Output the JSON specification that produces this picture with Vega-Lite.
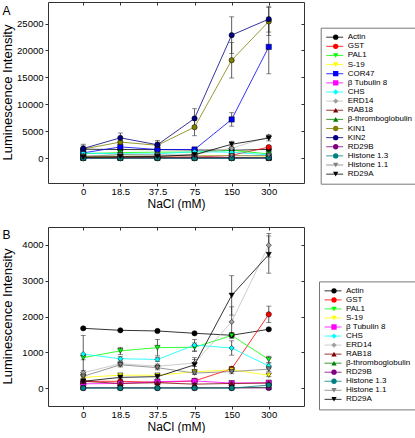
{
"$schema": "https://vega.github.io/schema/vega-lite/v6.json",
"padding": {"left": 0, "top": 1, "right": 0, "bottom": 0},
"background": "white",
"config": {
  "font": "Liberation Sans",
  "view": {"stroke": "#333", "strokeWidth": 1},
  "axis": {"grid": false, "domain": false, "labelFont": "Liberation Sans", "labelFontSize": 9.5, "labelColor": "#000", "titleFont": "Liberation Sans", "titleFontSize": 13, "titleFontWeight": "normal", "titleColor": "#000", "tickColor": "#333", "tickSize": 3, "labelPadding": 2},
  "legend": {"labelFont": "Liberation Sans", "labelColor": "#000"}
},
"datasets": {
  "expr": [
    {"series":"Actin","ord":1,"i":0,"nacl":"0","v":1670,"err":30},{"series":"Actin","ord":1,"i":1,"nacl":"18.5","v":1615,"err":25},{"series":"Actin","ord":1,"i":2,"nacl":"37.5","v":1596,"err":30},{"series":"Actin","ord":1,"i":3,"nacl":"75","v":1531,"err":30},{"series":"Actin","ord":1,"i":4,"nacl":"150","v":1476,"err":30},{"series":"Actin","ord":1,"i":5,"nacl":"300","v":1643,"err":30},
    {"series":"GST","ord":2,"i":0,"nacl":"0","v":190,"err":30},{"series":"GST","ord":2,"i":1,"nacl":"18.5","v":190,"err":30},{"series":"GST","ord":2,"i":2,"nacl":"37.5","v":160,"err":30},{"series":"GST","ord":2,"i":3,"nacl":"75","v":200,"err":40},{"series":"GST","ord":2,"i":4,"nacl":"150","v":540,"err":60},{"series":"GST","ord":2,"i":5,"nacl":"300","v":2060,"err":230},
    {"series":"PAL1","ord":3,"i":0,"nacl":"0","v":850,"err":60},{"series":"PAL1","ord":3,"i":1,"nacl":"18.5","v":1040,"err":100},{"series":"PAL1","ord":3,"i":2,"nacl":"37.5","v":1130,"err":230},{"series":"PAL1","ord":3,"i":3,"nacl":"75","v":1140,"err":120},{"series":"PAL1","ord":3,"i":4,"nacl":"150","v":1470,"err":80},{"series":"PAL1","ord":3,"i":5,"nacl":"300","v":800,"err":90},
    {"series":"S-19","ord":4,"i":0,"nacl":"0","v":300,"err":30},{"series":"S-19","ord":4,"i":1,"nacl":"18.5","v":360,"err":40},{"series":"S-19","ord":4,"i":2,"nacl":"37.5","v":360,"err":40},{"series":"S-19","ord":4,"i":3,"nacl":"75","v":455,"err":60},{"series":"S-19","ord":4,"i":4,"nacl":"150","v":510,"err":60},{"series":"S-19","ord":4,"i":5,"nacl":"300","v":360,"err":40},
    {"series":"COR47","ord":5,"i":0,"nacl":"0","v":990,"err":200},{"series":"COR47","ord":5,"i":1,"nacl":"18.5","v":2100,"err":300},{"series":"COR47","ord":5,"i":2,"nacl":"37.5","v":1620,"err":200},{"series":"COR47","ord":5,"i":3,"nacl":"75","v":1620,"err":300},{"series":"COR47","ord":5,"i":4,"nacl":"150","v":7200,"err":1250},{"series":"COR47","ord":5,"i":5,"nacl":"300","v":20670,"err":5000},
    {"series":"β Tubulin 8","ord":6,"i":0,"nacl":"0","v":120,"err":20},{"series":"β Tubulin 8","ord":6,"i":1,"nacl":"18.5","v":130,"err":20},{"series":"β Tubulin 8","ord":6,"i":2,"nacl":"37.5","v":180,"err":30},{"series":"β Tubulin 8","ord":6,"i":3,"nacl":"75","v":200,"err":30},{"series":"β Tubulin 8","ord":6,"i":4,"nacl":"150","v":140,"err":20},{"series":"β Tubulin 8","ord":6,"i":5,"nacl":"300","v":150,"err":20},
    {"series":"CHS","ord":7,"i":0,"nacl":"0","v":950,"err":520},{"series":"CHS","ord":7,"i":1,"nacl":"18.5","v":820,"err":60},{"series":"CHS","ord":7,"i":2,"nacl":"37.5","v":800,"err":60},{"series":"CHS","ord":7,"i":3,"nacl":"75","v":1200,"err":160},{"series":"CHS","ord":7,"i":4,"nacl":"150","v":1120,"err":200},{"series":"CHS","ord":7,"i":5,"nacl":"300","v":620,"err":80},
    {"series":"ERD14","ord":8,"i":0,"nacl":"0","v":430,"err":60},{"series":"ERD14","ord":8,"i":1,"nacl":"18.5","v":680,"err":60},{"series":"ERD14","ord":8,"i":2,"nacl":"37.5","v":610,"err":60},{"series":"ERD14","ord":8,"i":3,"nacl":"75","v":700,"err":100},{"series":"ERD14","ord":8,"i":4,"nacl":"150","v":1850,"err":420},{"series":"ERD14","ord":8,"i":5,"nacl":"300","v":3990,"err":330},
    {"series":"RAB18","ord":9,"i":0,"nacl":"0","v":190,"err":20},{"series":"RAB18","ord":9,"i":1,"nacl":"18.5","v":130,"err":20},{"series":"RAB18","ord":9,"i":2,"nacl":"37.5","v":150,"err":20},{"series":"RAB18","ord":9,"i":3,"nacl":"75","v":110,"err":20},{"series":"RAB18","ord":9,"i":4,"nacl":"150","v":130,"err":20},{"series":"RAB18","ord":9,"i":5,"nacl":"300","v":140,"err":20},
    {"series":"β-thromboglobulin","ord":10,"i":0,"nacl":"0","v":10,"err":10},{"series":"β-thromboglobulin","ord":10,"i":1,"nacl":"18.5","v":10,"err":10},{"series":"β-thromboglobulin","ord":10,"i":2,"nacl":"37.5","v":10,"err":10},{"series":"β-thromboglobulin","ord":10,"i":3,"nacl":"75","v":10,"err":10},{"series":"β-thromboglobulin","ord":10,"i":4,"nacl":"150","v":10,"err":10},{"series":"β-thromboglobulin","ord":10,"i":5,"nacl":"300","v":20,"err":10},
    {"series":"KIN1","ord":11,"i":0,"nacl":"0","v":1700,"err":600},{"series":"KIN1","ord":11,"i":1,"nacl":"18.5","v":3000,"err":700},{"series":"KIN1","ord":11,"i":2,"nacl":"37.5","v":2400,"err":600},{"series":"KIN1","ord":11,"i":3,"nacl":"75","v":5770,"err":1600},{"series":"KIN1","ord":11,"i":4,"nacl":"150","v":18190,"err":3300},{"series":"KIN1","ord":11,"i":5,"nacl":"300","v":25390,"err":2600},
    {"series":"KIN2","ord":12,"i":0,"nacl":"0","v":1800,"err":800},{"series":"KIN2","ord":12,"i":1,"nacl":"18.5","v":3780,"err":900},{"series":"KIN2","ord":12,"i":2,"nacl":"37.5","v":2500,"err":800},{"series":"KIN2","ord":12,"i":3,"nacl":"75","v":7390,"err":1800},{"series":"KIN2","ord":12,"i":4,"nacl":"150","v":22850,"err":3400},{"series":"KIN2","ord":12,"i":5,"nacl":"300","v":25820,"err":2400},
    {"series":"RD29B","ord":13,"i":0,"nacl":"0","v":5,"err":5},{"series":"RD29B","ord":13,"i":1,"nacl":"18.5","v":5,"err":5},{"series":"RD29B","ord":13,"i":2,"nacl":"37.5","v":5,"err":5},{"series":"RD29B","ord":13,"i":3,"nacl":"75","v":5,"err":5},{"series":"RD29B","ord":13,"i":4,"nacl":"150","v":5,"err":5},{"series":"RD29B","ord":13,"i":5,"nacl":"300","v":5,"err":5},
    {"series":"Histone 1.3","ord":14,"i":0,"nacl":"0","v":0,"err":5},{"series":"Histone 1.3","ord":14,"i":1,"nacl":"18.5","v":0,"err":5},{"series":"Histone 1.3","ord":14,"i":2,"nacl":"37.5","v":0,"err":5},{"series":"Histone 1.3","ord":14,"i":3,"nacl":"75","v":0,"err":5},{"series":"Histone 1.3","ord":14,"i":4,"nacl":"150","v":0,"err":5},{"series":"Histone 1.3","ord":14,"i":5,"nacl":"300","v":84,"err":20},
    {"series":"Histone 1.1","ord":15,"i":0,"nacl":"0","v":330,"err":50},{"series":"Histone 1.1","ord":15,"i":1,"nacl":"18.5","v":650,"err":60},{"series":"Histone 1.1","ord":15,"i":2,"nacl":"37.5","v":570,"err":60},{"series":"Histone 1.1","ord":15,"i":3,"nacl":"75","v":420,"err":40},{"series":"Histone 1.1","ord":15,"i":4,"nacl":"150","v":460,"err":60},{"series":"Histone 1.1","ord":15,"i":5,"nacl":"300","v":530,"err":60},
    {"series":"RD29A","ord":16,"i":0,"nacl":"0","v":190,"err":30},{"series":"RD29A","ord":16,"i":1,"nacl":"18.5","v":300,"err":40},{"series":"RD29A","ord":16,"i":2,"nacl":"37.5","v":320,"err":40},{"series":"RD29A","ord":16,"i":3,"nacl":"75","v":650,"err":200},{"series":"RD29A","ord":16,"i":4,"nacl":"150","v":2590,"err":550},{"series":"RD29A","ord":16,"i":5,"nacl":"300","v":3730,"err":520}
  ]
},
"spacing": 16,
"resolve": {"scale": {"y": "independent", "stroke": "independent", "fill": "independent", "shape": "independent"}, "legend": {"stroke": "independent", "fill": "independent", "shape": "independent"}},
"vconcat": [
  {
    "width": 256, "height": 181,
    "data": {"name": "expr"},
    "encoding": {
      "x": {"field": "nacl", "type": "ordinal", "sort": ["0","18.5","37.5","75","150","300"], "scale": {"type": "point", "domain": ["0","18.5","37.5","75","150","300"], "padding": 0.95}, "axis": {"orient": "bottom", "title": "NaCl (mM)", "titleFontSize": 12, "labelAngle": 0, "labelPadding": 0, "titlePadding": 3}},
      "y": {"field": "v", "type": "quantitative", "scale": {"domain": [-4600, 29000], "nice": false, "zero": false}, "axis": {"orient": "left", "title": "Luminescence Intensity", "values": [0, 5000, 10000, 15000, 20000, 25000], "format": "d", "titleX": -41, "titleY": 90, "titleBaseline": "middle", "titleAnchor": "middle"}}
    },
    "layer": [
      {"mark": {"type": "line", "strokeWidth": 0.8},
       "encoding": {
         "order": {"field": "i", "type": "quantitative"},
         "stroke": {"field": "series", "type": "nominal", "sort": {"field": "ord", "op": "min"},
           "scale": {"range": ["#000000","#ff0000","#00ff00","#ffff00","#0000ff","#ff00ff","#00ffff","#c0c0c0","#800000","#008000","#808000","#000080","#800080","#008080","#808080","#000000"]},
           "legend": {"title": null, "orient": "none", "legendX": 272.7, "legendY": 25.7, "symbolType": "stroke", "symbolSize": 289, "symbolStrokeWidth": 0.8, "labelFontSize": 8, "labelOffset": 4, "clipHeight": 9, "rowPadding": 0.13, "padding": 5, "strokeColor": "#777", "labelLimit": 200}}
       }},
      {"mark": {"type": "errorbar", "ticks": {"size": 5}, "color": "#333", "thickness": 0.8},
       "encoding": {
         "x": {"field": "nacl", "type": "ordinal", "sort": ["0","18.5","37.5","75","150","300"], "axis": null},
         "y": {"field": "v", "type": "quantitative", "axis": null},
         "yError": {"field": "err"}}},
      {"mark": {"type": "point", "filled": true, "size": 28, "stroke": "#000", "strokeWidth": 0.5, "opacity": 1},
       "encoding": {
         "x": {"field": "nacl", "type": "ordinal", "sort": ["0","18.5","37.5","75","150","300"], "axis": {"orient": "top", "labels": false, "title": null, "tickSize": -3}},
         "y": {"field": "v", "type": "quantitative", "axis": {"orient": "right", "labels": false, "values": [0, 5000, 10000, 15000, 20000, 25000], "tickSize": -3, "title": "A", "titleFontSize": 12, "titleAngle": 0, "titleX": -302, "titleY": 12.3, "titleAlign": "left", "titleBaseline": "alphabetic", "titlePadding": 0}},
         "fill": {"field": "series", "type": "nominal",
           "scale": {"domain": ["Actin","GST","PAL1","S-19","COR47","β Tubulin 8","CHS","ERD14","RAB18","β-thromboglobulin","KIN1","KIN2","RD29B","Histone 1.3","Histone 1.1","RD29A"],
             "range": ["#000000","#ff0000","#00ff00","#ffff00","#0000ff","#ff00ff","#00ffff","#a0a0a0","#800000","#008000","#808000","#000080","#800080","#008080","#808080","#000000"]},
           "legend": {"title": null, "orient": "none", "legendX": 278.7, "legendY": 25.7, "symbolSize": 28, "symbolStrokeColor": "#000", "symbolStrokeWidth": 0.5, "labelFontSize": 8, "labelExpr": "''", "labelOffset": 0, "clipHeight": 9, "rowPadding": 0.13, "padding": 5}},
         "shape": {"field": "series", "type": "nominal",
           "scale": {"domain": ["Actin","GST","PAL1","S-19","COR47","β Tubulin 8","CHS","ERD14","RAB18","β-thromboglobulin","KIN1","KIN2","RD29B","Histone 1.3","Histone 1.1","RD29A"],
             "range": ["circle","circle","triangle-down","triangle-down","square","square","diamond","diamond","triangle-up","triangle-up","circle","circle","circle","circle","triangle-down","triangle-down"]},
           "legend": {"title": null, "orient": "none", "legendX": 278.7, "legendY": 25.7, "symbolSize": 28, "symbolStrokeColor": "#000", "symbolStrokeWidth": 0.5, "labelFontSize": 8, "labelExpr": "''", "labelOffset": 0, "clipHeight": 9, "rowPadding": 0.13, "padding": 5}}
       }}
    ]
  },
  {
    "width": 256, "height": 179,
    "data": {"name": "expr"},
    "transform": [{"filter": {"not": {"field": "series", "oneOf": ["COR47", "KIN1", "KIN2"]}}}],
    "encoding": {
      "x": {"field": "nacl", "type": "ordinal", "sort": ["0","18.5","37.5","75","150","300"], "scale": {"type": "point", "domain": ["0","18.5","37.5","75","150","300"], "padding": 0.95}, "axis": {"orient": "bottom", "title": "NaCl (mM)", "titleFontSize": 12, "labelAngle": 0, "labelPadding": 0, "titlePadding": 3}},
      "y": {"field": "v", "type": "quantitative", "scale": {"domain": [-500, 4500], "nice": false, "zero": false}, "axis": {"orient": "left", "title": "Luminescence Intensity", "values": [0, 1000, 2000, 3000, 4000], "format": "d", "titleX": -41, "titleY": 89, "titleBaseline": "middle", "titleAnchor": "middle"}}
    },
    "layer": [
      {"mark": {"type": "line", "strokeWidth": 0.8},
       "encoding": {
         "order": {"field": "i", "type": "quantitative"},
         "stroke": {"field": "series", "type": "nominal", "sort": {"field": "ord", "op": "min"},
           "scale": {"range": ["#000000","#ff0000","#00ff00","#ffff00","#ff00ff","#00ffff","#c0c0c0","#800000","#008000","#800080","#008080","#808080","#000000"]},
           "legend": {"title": null, "orient": "none", "legendX": 271, "legendY": 54.4, "symbolType": "stroke", "symbolSize": 289, "symbolStrokeWidth": 0.8, "labelFontSize": 8, "labelOffset": 4, "clipHeight": 8.9, "rowPadding": 0.04, "padding": 5, "strokeColor": "#777", "labelLimit": 200}}
       }},
      {"mark": {"type": "errorbar", "ticks": {"size": 5}, "color": "#333", "thickness": 0.8},
       "encoding": {
         "x": {"field": "nacl", "type": "ordinal", "sort": ["0","18.5","37.5","75","150","300"], "axis": null},
         "y": {"field": "v", "type": "quantitative", "axis": null},
         "yError": {"field": "err"}}},
      {"mark": {"type": "point", "filled": true, "size": 28, "stroke": "#000", "strokeWidth": 0.5, "opacity": 1},
       "encoding": {
         "x": {"field": "nacl", "type": "ordinal", "sort": ["0","18.5","37.5","75","150","300"], "axis": {"orient": "top", "labels": false, "title": null, "tickSize": -3}},
         "y": {"field": "v", "type": "quantitative", "axis": {"orient": "right", "labels": false, "values": [0, 1000, 2000, 3000, 4000], "tickSize": -3, "title": "B", "titleFontSize": 12, "titleAngle": 0, "titleX": -302, "titleY": 11, "titleAlign": "left", "titleBaseline": "alphabetic", "titlePadding": 0}},
         "fill": {"field": "series", "type": "nominal",
           "scale": {"domain": ["Actin","GST","PAL1","S-19","β Tubulin 8","CHS","ERD14","RAB18","β-thromboglobulin","RD29B","Histone 1.3","Histone 1.1","RD29A"],
             "range": ["#000000","#ff0000","#00ff00","#ffff00","#ff00ff","#00ffff","#a0a0a0","#800000","#008000","#800080","#008080","#808080","#000000"]},
           "legend": {"title": null, "orient": "none", "legendX": 277, "legendY": 54.4, "symbolSize": 28, "symbolStrokeColor": "#000", "symbolStrokeWidth": 0.5, "labelFontSize": 8, "labelExpr": "''", "labelOffset": 0, "clipHeight": 8.9, "rowPadding": 0.04, "padding": 5}},
         "shape": {"field": "series", "type": "nominal",
           "scale": {"domain": ["Actin","GST","PAL1","S-19","β Tubulin 8","CHS","ERD14","RAB18","β-thromboglobulin","RD29B","Histone 1.3","Histone 1.1","RD29A"],
             "range": ["circle","circle","triangle-down","triangle-down","square","diamond","diamond","triangle-up","triangle-up","circle","circle","triangle-down","triangle-down"]},
           "legend": {"title": null, "orient": "none", "legendX": 277, "legendY": 54.4, "symbolSize": 28, "symbolStrokeColor": "#000", "symbolStrokeWidth": 0.5, "labelFontSize": 8, "labelExpr": "''", "labelOffset": 0, "clipHeight": 8.9, "rowPadding": 0.04, "padding": 5}}
       }}
    ]
  }
]
}
